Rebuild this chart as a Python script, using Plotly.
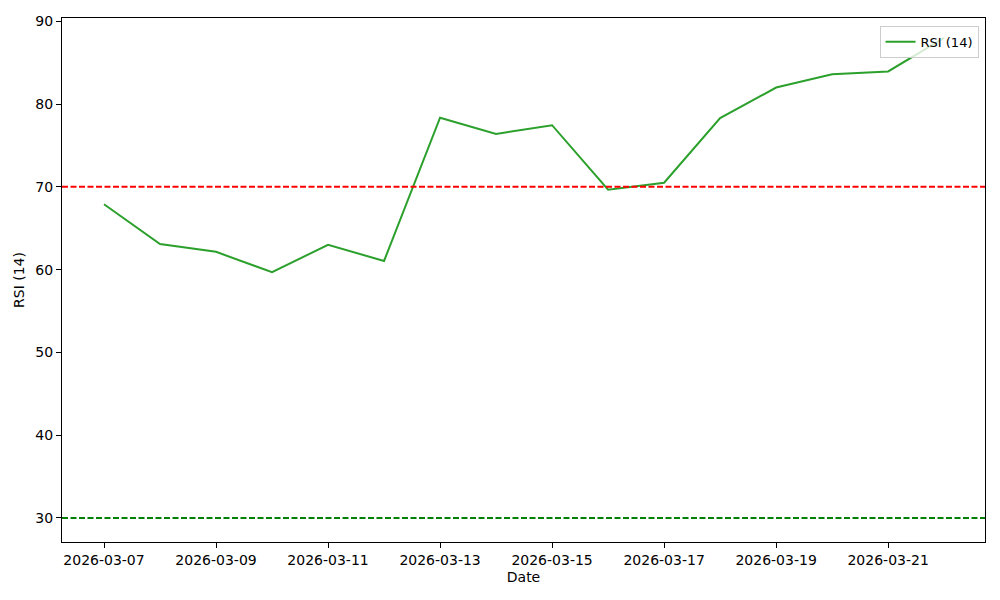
import plotly.graph_objects as go

dates = ["2026-03-07", "2026-03-08", "2026-03-09", "2026-03-10", "2026-03-11",
         "2026-03-12", "2026-03-13", "2026-03-14", "2026-03-15", "2026-03-16",
         "2026-03-17", "2026-03-18", "2026-03-19", "2026-03-20", "2026-03-21",
         "2026-03-22"]
rsi = [67.9, 63.1, 62.15, 59.7, 63.0, 61.05, 78.35, 76.4, 77.45, 69.65,
       70.5, 78.3, 82.0, 83.6, 83.95, 88.0]
overbought = 70
oversold = 30
tick_vals = ["2026-03-07", "2026-03-09", "2026-03-11", "2026-03-13",
             "2026-03-15", "2026-03-17", "2026-03-19", "2026-03-21"]

font = dict(family="DejaVu Sans", size=14, color="black")

fig = go.Figure()
fig.add_trace(go.Scatter(x=dates, y=rsi, mode="lines", name="RSI (14)",
                         line=dict(color="#2ca02c", width=2)))
fig.add_shape(type="line", xref="paper", x0=0, x1=1, yref="y", y0=overbought, y1=overbought,
              line=dict(color="red", width=2, dash="6px,2.5px"))
fig.add_shape(type="line", xref="paper", x0=0, x1=1, yref="y", y0=oversold, y1=oversold,
              line=dict(color="green", width=2, dash="6px,2.5px"))

fig.update_layout(
    width=1000, height=600,
    margin=dict(l=54, r=23, t=10, b=66, autoexpand=False),
    paper_bgcolor="white", plot_bgcolor="white",
    font=font,
    showlegend=True,
    legend=dict(x=0.993, y=0.985, xanchor="right", yanchor="top",
                bgcolor="rgba(255,255,255,0.8)", bordercolor="#cccccc", borderwidth=1,
                font=dict(family="DejaVu Sans", size=13)),
)
fig.update_xaxes(
    type="date",
    range=["2026-03-06 06:00", "2026-03-22 17:30"],
    tickvals=tick_vals, ticktext=tick_vals,
    ticks="outside", ticklen=5, tickwidth=1, tickcolor="black",
    showline=True, linecolor="black", linewidth=1, mirror=True,
    showgrid=False, zeroline=False,
    title=dict(text="Date", font=font, standoff=5),
)
fig.update_yaxes(
    range=[27.1, 90.4],
    tickvals=[30, 40, 50, 60, 70, 80, 90],
    ticks="outside", ticklen=5, tickwidth=1, tickcolor="black",
    showline=True, linecolor="black", linewidth=1, mirror=True,
    showgrid=False, zeroline=False,
    title=dict(text="RSI (14)", font=font, standoff=7),
)

fig.write_html("out.html")
